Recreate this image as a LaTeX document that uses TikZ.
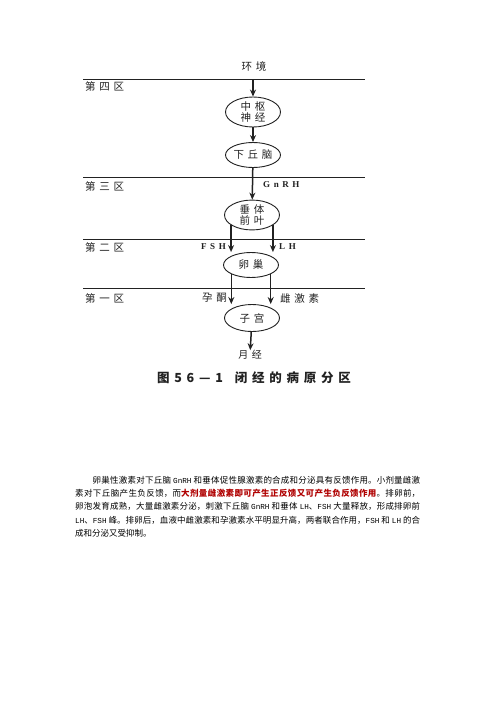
\documentclass[tikz,border=0pt]{standalone}
\usepackage{fontspec}
\usetikzlibrary{shapes.geometric,arrows.meta,calc}
\setmainfont{Noto Sans CJK SC}
\newfontfamily\dgfont[LetterSpace=35]{Noto Sans CJK SC}
\newfontfamily\capfont[LetterSpace=38]{Noto Sans CJK SC}
\newfontfamily\labfont[LetterSpace=40]{Liberation Serif}
\newfontfamily\monofont[Scale=0.9]{Liberation Mono}
\XeTeXlinebreaklocale "zh"
\XeTeXlinebreakskip=0pt plus 1pt minus 0.3pt
\definecolor{redtxt}{HTML}{B00000}
\definecolor{ink}{HTML}{222222}
\tikzset{
  ell/.style={ellipse, draw=ink, line width=0.9pt, minimum width=55pt, minimum height=26pt,
    inner sep=0pt, align=center, text=ink, font=\dgfont\fontsize{10.5}{11.5}\selectfont},
  arr/.style={-{Stealth[length=7pt,width=6pt]}, line width=1.5pt, draw=ink},
  rule/.style={line width=1pt, draw=ink},
  zone/.style={anchor=west, inner sep=0pt, text=ink, font=\dgfont\fontsize{10.5}{12}\selectfont},
  dtxt/.style={inner sep=0pt, text=ink, font=\dgfont\fontsize{10.5}{12}\selectfont},
  ltxt/.style={inner sep=0pt, text=ink, font=\labfont\bfseries\fontsize{9}{10}\selectfont},
}
\begin{document}
\begin{tikzpicture}[x=1pt,y=-1pt]
\useasboundingbox (0,0) rectangle (496,702);
\fill[white] (0,0) rectangle (496,702);
% zone rules
\coordinate (l4a) at (83,79);  \coordinate (l4b) at (365,79);
\coordinate (l3a) at (83,177); \coordinate (l3b) at (365,177);
\coordinate (l2a) at (83,239); \coordinate (l2b) at (365,239);
\coordinate (l1a) at (83,288); \coordinate (l1b) at (365,288);
\draw[rule] (l4a) -- (l4b);
\draw[rule] (l3a) -- (l3b);
\draw[rule] (l2a) -- (l2b);
\draw[rule] (l1a) -- (l1b);
% zone labels
\node[zone] (z4) at (85,86) {第四区};
\node[zone] (z3) at (85,186) {第三区};
\node[zone] (z2) at (85,247) {第二区};
\node[zone] (z1) at (85,298) {第一区};
% nodes
\node[dtxt] (env) at (254,66) {环境};
\node[ell, minimum height=30pt] (cns) at (253,112) {中枢\\神经};
\node[ell, minimum height=25pt] (hyp) at (253,155) {下丘脑};
\node[ell] (pit) at (252,215) {垂体\\前叶};
\node[ell, minimum height=25pt] (ova) at (251,265) {卵巢};
\node[ell, minimum height=27pt] (ute) at (252,318) {子宫};
\node[dtxt, font=\dgfont\fontsize{10}{12}\selectfont] (mens) at (250,355) {月经};
% labels
\node[ltxt, anchor=west] (gnrh) at (263,185) {GnRH};
\node[ltxt, anchor=east] (fsh) at (226,247) {FSH};
\node[ltxt, anchor=west] (lh) at (279,247) {LH};
\node[dtxt, anchor=east] (prog) at (227,298) {孕酮};
\node[dtxt, anchor=west] (estr) at (280,298) {雌激素};
% arrows
\draw[arr] (cns.north |- l4a) -- (cns.north);
\draw[arr] (cns) -- (hyp);
\draw[arr] (hyp) -- (pit);
\draw[arr] (pit.206) -- (pit.206 |- ova.north);
\draw[arr] (pit.334) -- (pit.334 |- ova.north);
\draw[arr] (ova.205) -- (ova.205 |- ute.north);
\draw[arr] (ova.335) -- (ova.335 |- ute.north);
\draw[arr] (ute) -- (mens);
% caption
\node[inner sep=0pt, text=ink, font=\capfont\bfseries\fontsize{12.5}{14}\selectfont] (cap) at (254,378) {图56—1\hspace{12pt}闭经的病原分区};
% paragraph
\node[anchor=north west, inner sep=0pt, text width=345pt, align=justify,
      font=\fontsize{8.5}{13.3}\selectfont] (para) at (75,476)
{\hspace*{17.5pt}卵巢性激素对下丘脑 {\monofont GnRH} 和垂体促性腺激素的合成和分泌具有反馈作用。小剂量雌激\linebreak
素对下丘脑产生负反馈，而{\color{redtxt}\bfseries 大剂量雌激素即可产生正反馈又可产生负反馈作用}。排卵前，\linebreak
卵泡发育成熟，大量雌激素分泌，刺激下丘脑 {\monofont GnRH} 和垂体 {\monofont LH}、{\monofont FSH} 大量释放，形成排卵前\linebreak
{\monofont LH}、{\monofont FSH} 峰。排卵后，血液中雌激素和孕激素水平明显升高，两者联合作用，{\monofont FSH} 和 {\monofont LH} 的合\linebreak
成和分泌又受抑制。};
\end{tikzpicture}
\end{document}
